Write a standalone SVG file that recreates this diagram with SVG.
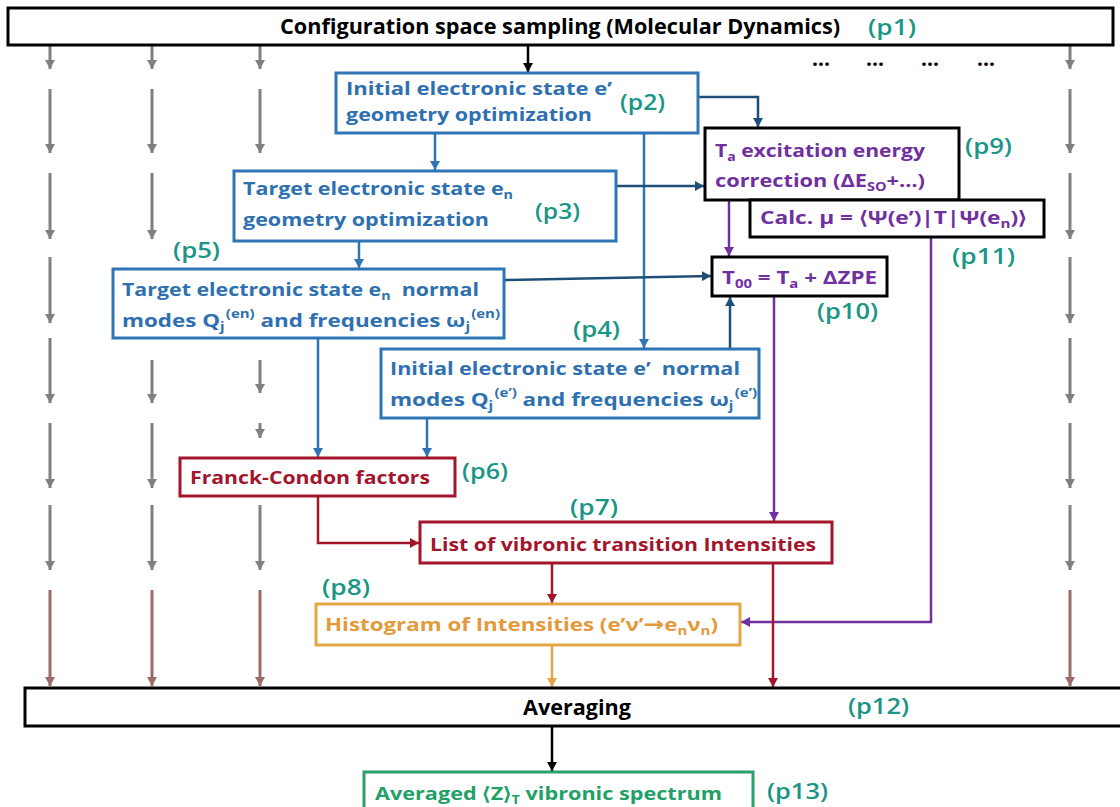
<svg xmlns="http://www.w3.org/2000/svg" width="1120" height="807" viewBox="0 0 1120 807">
<defs>
<style>
text{font-family:"Open Sans","Liberation Sans",sans-serif;font-weight:700;}
.lbl{fill:#1a9686;font-weight:600;font-size:21px;}
.box{fill:#fff;stroke-width:3;}
.bk{stroke:#000;}
.bl{stroke:#2e75b6;}
.rd{stroke:#a3152a;}
.or{stroke:#e3a644;}
.gr{stroke:#2aa06a;}
.tbl{fill:#2e70b0;font-size:18px;}
.tpu{fill:#7030a0;font-size:18px;}
.trd{fill:#a3152a;font-size:18px;}
.tor{fill:#e39a3c;font-size:18px;}
.tgr{fill:#22a066;font-size:18px;}
.tbk{fill:#000;font-size:21px;}
.sm{font-size:12px;}
.pre{white-space:pre;}
.c{fill:none;stroke-width:2.5;}
.cg{stroke:#808080;stroke-width:3;fill:none;marker-end:url(#ag);}
.cb{stroke:#9c6b68;stroke-width:3;fill:none;marker-end:url(#ab);}
</style>
<marker id="ag" markerUnits="userSpaceOnUse" markerWidth="10" markerHeight="10" refX="9" refY="5" orient="auto"><path d="M0,0 L9,5 L0,10 Z" fill="#808080"/></marker>
<marker id="ab" markerUnits="userSpaceOnUse" markerWidth="10" markerHeight="10" refX="9" refY="5" orient="auto"><path d="M0,0 L9,5 L0,10 Z" fill="#9c6b68"/></marker>
<marker id="ak" markerUnits="userSpaceOnUse" markerWidth="10" markerHeight="10" refX="9" refY="5" orient="auto"><path d="M0,0 L9,5 L0,10 Z" fill="#000"/></marker>
<marker id="an" markerUnits="userSpaceOnUse" markerWidth="10" markerHeight="10" refX="9" refY="5" orient="auto"><path d="M0,0 L9,5 L0,10 Z" fill="#1f4e79"/></marker>
<marker id="abl" markerUnits="userSpaceOnUse" markerWidth="10" markerHeight="10" refX="9" refY="5" orient="auto"><path d="M0,0 L9,5 L0,10 Z" fill="#2e75b6"/></marker>
<marker id="ap" markerUnits="userSpaceOnUse" markerWidth="10" markerHeight="10" refX="9" refY="5" orient="auto"><path d="M0,0 L9,5 L0,10 Z" fill="#7030a0"/></marker>
<marker id="ar" markerUnits="userSpaceOnUse" markerWidth="10" markerHeight="10" refX="9" refY="5" orient="auto"><path d="M0,0 L9,5 L0,10 Z" fill="#a3152a"/></marker>
<marker id="ao" markerUnits="userSpaceOnUse" markerWidth="10" markerHeight="10" refX="9" refY="5" orient="auto"><path d="M0,0 L9,5 L0,10 Z" fill="#e3a644"/></marker>
</defs>
<rect width="1120" height="807" fill="#fff"/>

<g id="connectors">
<path class="cg" d="M50,45 V69"/><path class="cg" d="M50,89 V153"/><path class="cg" d="M50,173 V239"/><path class="cg" d="M50,257 V323"/><path class="cg" d="M50,338 V403"/><path class="cg" d="M50,423 V488"/><path class="cg" d="M50,505 V570"/>
<path class="cg" d="M152,45 V69"/><path class="cg" d="M152,89 V153"/><path class="cg" d="M152,173 V239"/><path class="cg" d="M152,360 V403"/><path class="cg" d="M152,423 V488"/><path class="cg" d="M152,505 V570"/>
<path class="cg" d="M260,45 V69"/><path class="cg" d="M260,89 V153"/><path class="cg" d="M260,360 V393"/><path class="cg" d="M260,423 V438"/><path class="cg" d="M260,505 V570"/>
<path class="cg" d="M1070,45 V69"/><path class="cg" d="M1070,89 V153"/><path class="cg" d="M1070,173 V239"/><path class="cg" d="M1070,257 V323"/><path class="cg" d="M1070,338 V403"/><path class="cg" d="M1070,423 V488"/><path class="cg" d="M1070,505 V570"/>
<path class="cb" d="M50,590 V686"/><path class="cb" d="M152,590 V686"/><path class="cb" d="M260,590 V686"/><path class="cb" d="M1070,590 V686"/>
<path class="c" stroke="#000" marker-end="url(#ak)" d="M528,45 V72"/>
<path class="c" stroke="#1f4e79" marker-end="url(#an)" d="M698,97 H758 V127"/>
<path class="c" stroke="#2e75b6" marker-end="url(#abl)" d="M435,133 V170"/>
<path class="c" stroke="#2e75b6" marker-end="url(#abl)" d="M644,133 V348"/>
<path class="c" stroke="#1f4e79" marker-end="url(#an)" d="M616,186 H704"/>
<path class="c" stroke="#2e75b6" marker-end="url(#abl)" d="M359,241 V268"/>
<path class="c" stroke="#1f4e79" marker-end="url(#an)" d="M504,280 L711,276"/>
<path class="c" stroke="#1f4e79" marker-end="url(#an)" d="M730,349 V297"/>
<path class="c" stroke="#7030a0" marker-end="url(#ap)" d="M729,200 V256"/>
<path class="c" stroke="#7030a0" marker-end="url(#ap)" d="M774,296 V521"/>
<path class="c" stroke="#7030a0" marker-end="url(#ap)" d="M931,237 V622 H741"/>
<path class="c" stroke="#2e75b6" marker-end="url(#abl)" d="M318,338 V457"/>
<path class="c" stroke="#2e75b6" marker-end="url(#abl)" d="M427,418 V457"/>
<path class="c" stroke="#a3152a" marker-end="url(#ar)" d="M318,496 V543 H419"/>
<path class="c" stroke="#a3152a" marker-end="url(#ar)" d="M552,563 V603"/>
<path class="c" stroke="#a3152a" marker-end="url(#ar)" d="M773,563 V687"/>
<path class="c" stroke="#e3a644" marker-end="url(#ao)" d="M552,645 V687"/>
<path class="c" stroke="#000" marker-end="url(#ak)" d="M552,726 V771"/>
</g>

<g id="p1">
<rect class="box bk" x="8" y="8" width="1105" height="37"/>
<text class="tbk" x="280" y="34" textLength="560" lengthAdjust="spacingAndGlyphs">Configuration space sampling (Molecular Dynamics)</text>
<text class="lbl" x="868" y="35" textLength="48" lengthAdjust="spacingAndGlyphs">(p1)</text>
</g>
<g id="dots">
<text class="tbk" x="821" y="66" font-size="16" text-anchor="middle">...</text>
<text class="tbk" x="875" y="66" font-size="16" text-anchor="middle">...</text>
<text class="tbk" x="930" y="66" font-size="16" text-anchor="middle">...</text>
<text class="tbk" x="986" y="66" font-size="16" text-anchor="middle">...</text>
</g>

<g id="p2">
<rect class="box bl" x="336" y="73" width="362" height="60"/>
<text class="tbl" x="346" y="95" textLength="266" lengthAdjust="spacingAndGlyphs">Initial electronic state e’</text>
<text class="tbl" x="346" y="121" textLength="246" lengthAdjust="spacingAndGlyphs">geometry optimization</text>
<text class="lbl" x="620" y="110" textLength="45" lengthAdjust="spacingAndGlyphs">(p2)</text>
</g>

<g id="p3">
<rect class="box bl" x="234" y="171" width="382" height="70"/>
<text class="tbl" x="243" y="195" textLength="270" lengthAdjust="spacingAndGlyphs">Target electronic state e<tspan class="sm" dy="4">n</tspan></text>
<text class="tbl" x="243" y="226" textLength="246" lengthAdjust="spacingAndGlyphs">geometry optimization</text>
<text class="lbl" x="535" y="219" textLength="45" lengthAdjust="spacingAndGlyphs">(p3)</text>
</g>

<g id="p5">
<rect class="box bl" x="113" y="269" width="391" height="69"/>
<text class="tbl pre" x="122" y="296" textLength="357" lengthAdjust="spacingAndGlyphs">Target electronic state e<tspan class="sm" dy="4">n</tspan><tspan dy="-4">  normal</tspan></text>
<text class="tbl" x="122" y="327" textLength="378" lengthAdjust="spacingAndGlyphs">modes Q<tspan class="sm" dy="4">j</tspan><tspan class="sm" dx="1" dy="-13">(en)</tspan><tspan dy="9"> and frequencies ω</tspan><tspan class="sm" dy="4">j</tspan><tspan class="sm" dx="1" dy="-13">(en)</tspan></text>
<text class="lbl" x="173" y="258" textLength="47" lengthAdjust="spacingAndGlyphs">(p5)</text>
</g>

<g id="p4">
<rect class="box bl" x="381" y="349" width="378" height="69"/>
<text class="tbl pre" x="390" y="375" textLength="350" lengthAdjust="spacingAndGlyphs">Initial electronic state e’  normal</text>
<text class="tbl" x="390" y="406" textLength="367" lengthAdjust="spacingAndGlyphs">modes Q<tspan class="sm" dy="4">j</tspan><tspan class="sm" dx="1" dy="-13">(e’)</tspan><tspan dy="9"> and frequencies ω</tspan><tspan class="sm" dy="4">j</tspan><tspan class="sm" dx="1" dy="-13">(e’)</tspan></text>
<text class="lbl" x="573" y="337" textLength="47" lengthAdjust="spacingAndGlyphs">(p4)</text>
</g>

<g id="p9">
<rect class="box bk" x="705" y="128" width="254" height="72" stroke-width="2.5"/>
<text class="tpu" x="715" y="157" textLength="210" lengthAdjust="spacingAndGlyphs">T<tspan class="sm" dy="4">a</tspan><tspan dy="-4"> excitation energy</tspan></text>
<text class="tpu" x="715" y="187" textLength="210" lengthAdjust="spacingAndGlyphs">correction (ΔE<tspan class="sm" dy="4">SO</tspan><tspan dy="-4">+…)</tspan></text>
<text class="lbl" x="965" y="154" textLength="47" lengthAdjust="spacingAndGlyphs">(p9)</text>
</g>

<g id="p11">
<rect class="box bk" x="750" y="200" width="294" height="37" stroke-width="2.5"/>
<text class="tpu" x="760" y="224" textLength="267" lengthAdjust="spacingAndGlyphs">Calc. μ = ⟨Ψ(e’)|T|Ψ(e<tspan class="sm" dy="4">n</tspan><tspan dy="-4">)⟩</tspan></text>
<text class="lbl" x="952" y="264" textLength="63" lengthAdjust="spacingAndGlyphs">(p11)</text>
</g>

<g id="p10">
<rect class="box bk" x="712" y="257" width="175" height="39" stroke-width="2.5"/>
<text class="tpu" x="722" y="284" textLength="155" lengthAdjust="spacingAndGlyphs">T<tspan class="sm" dy="4">00</tspan><tspan dy="-4"> = T</tspan><tspan class="sm" dy="4">a</tspan><tspan dy="-4"> + ΔZPE</tspan></text>
<text class="lbl" x="817" y="319" textLength="61" lengthAdjust="spacingAndGlyphs">(p10)</text>
</g>

<g id="p6">
<rect class="box rd" x="180" y="458" width="275" height="38"/>
<text class="trd" x="190" y="484" textLength="240" lengthAdjust="spacingAndGlyphs">Franck-Condon factors</text>
<text class="lbl" x="462" y="479" textLength="46" lengthAdjust="spacingAndGlyphs">(p6)</text>
</g>

<g id="p7">
<rect class="box rd" x="420" y="522" width="412" height="41"/>
<text class="trd" x="430" y="551" textLength="386" lengthAdjust="spacingAndGlyphs">List of vibronic transition Intensities</text>
<text class="lbl" x="570" y="515" textLength="48" lengthAdjust="spacingAndGlyphs">(p7)</text>
</g>

<g id="p8">
<rect class="box or" x="316" y="604" width="424" height="41"/>
<text class="tor" x="325" y="631" textLength="393" lengthAdjust="spacingAndGlyphs">Histogram of Intensities (e’ν’<tspan font-family="DejaVu Sans, sans-serif" font-size="20">→</tspan>e<tspan class="sm" dy="4">n</tspan><tspan dy="-4">ν</tspan><tspan class="sm" dy="4">n</tspan><tspan dy="-4">)</tspan></text>
<text class="lbl" x="322" y="595" textLength="48" lengthAdjust="spacingAndGlyphs">(p8)</text>
</g>

<g id="p12">
<rect class="box bk" x="25" y="688" width="1110" height="38"/>
<text class="tbk" x="523" y="715" textLength="108" lengthAdjust="spacingAndGlyphs">Averaging</text>
<text class="lbl" x="848" y="714" textLength="61" lengthAdjust="spacingAndGlyphs">(p12)</text>
</g>

<g id="p13">
<rect class="box gr" x="364" y="772" width="389" height="50" stroke-width="2"/>
<text class="tgr" x="375" y="800" textLength="347" lengthAdjust="spacingAndGlyphs">Averaged ⟨Z⟩<tspan class="sm" dy="4">T</tspan><tspan dy="-4"> vibronic spectrum</tspan></text>
<text class="lbl" x="767" y="799" textLength="61" lengthAdjust="spacingAndGlyphs">(p13)</text>
</g>
</svg>
